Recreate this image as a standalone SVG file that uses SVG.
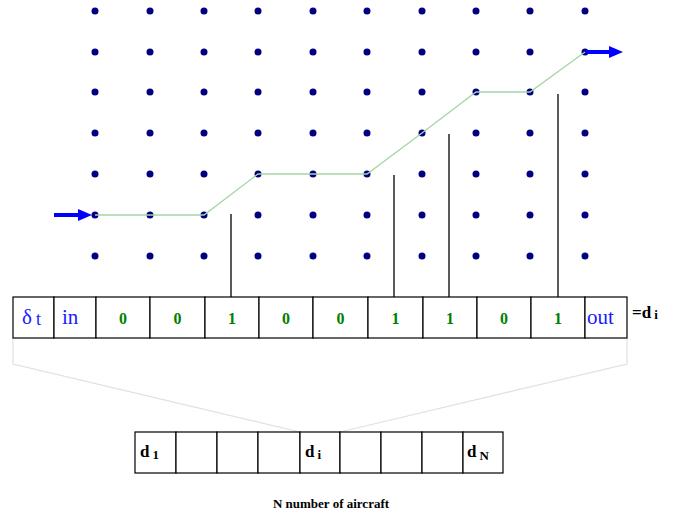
<svg xmlns="http://www.w3.org/2000/svg" width="686" height="520" viewBox="0 0 686 520">
<defs>
<style>
.dot{fill:#000080}
.cell{fill:#fff;stroke:#000;stroke-width:1.2}
.blue{font-family:"Liberation Serif",serif;fill:#1a1aff;font-size:21px}
.dig{font-family:"Liberation Serif",serif;fill:#008000;font-size:16px;font-weight:bold;text-anchor:middle}
.blk{font-family:"Liberation Serif",serif;fill:#000;font-weight:bold}
.path{fill:none;stroke:#a8d4a8;stroke-width:1.3}
.fan{fill:none;stroke:#e0e0e0;stroke-width:1.2}
.vl{stroke:#000;stroke-width:1.3}
.arr{stroke:#0000ff;stroke-width:4}
</style>
<marker id="ah" markerWidth="4" markerHeight="4" refX="0.5" refY="2" orient="auto" markerUnits="strokeWidth">
<path d="M0,0.5 L3.5,2 L0,3.5 Z" fill="#0000ff"/>
</marker>
</defs>
<g id="grid">
<g class="dot">
<circle cx="95" cy="11" r="3.5"/><circle cx="150" cy="11" r="3.5"/><circle cx="204" cy="11" r="3.5"/><circle cx="258" cy="11" r="3.5"/><circle cx="313" cy="11" r="3.5"/><circle cx="367" cy="11" r="3.5"/><circle cx="422" cy="11" r="3.5"/><circle cx="476" cy="11" r="3.5"/><circle cx="530" cy="11" r="3.5"/><circle cx="585" cy="11" r="3.5"/>
<circle cx="95" cy="52" r="3.5"/><circle cx="150" cy="52" r="3.5"/><circle cx="204" cy="52" r="3.5"/><circle cx="258" cy="52" r="3.5"/><circle cx="313" cy="52" r="3.5"/><circle cx="367" cy="52" r="3.5"/><circle cx="422" cy="52" r="3.5"/><circle cx="476" cy="52" r="3.5"/><circle cx="530" cy="52" r="3.5"/><circle cx="585" cy="52" r="3.5"/>
<circle cx="95" cy="92" r="3.5"/><circle cx="150" cy="92" r="3.5"/><circle cx="204" cy="92" r="3.5"/><circle cx="258" cy="92" r="3.5"/><circle cx="313" cy="92" r="3.5"/><circle cx="367" cy="92" r="3.5"/><circle cx="422" cy="92" r="3.5"/><circle cx="476" cy="92" r="3.5"/><circle cx="530" cy="92" r="3.5"/><circle cx="585" cy="92" r="3.5"/>
<circle cx="95" cy="133" r="3.5"/><circle cx="150" cy="133" r="3.5"/><circle cx="204" cy="133" r="3.5"/><circle cx="258" cy="133" r="3.5"/><circle cx="313" cy="133" r="3.5"/><circle cx="367" cy="133" r="3.5"/><circle cx="422" cy="133" r="3.5"/><circle cx="476" cy="133" r="3.5"/><circle cx="530" cy="133" r="3.5"/><circle cx="585" cy="133" r="3.5"/>
<circle cx="95" cy="174" r="3.5"/><circle cx="150" cy="174" r="3.5"/><circle cx="204" cy="174" r="3.5"/><circle cx="258" cy="174" r="3.5"/><circle cx="313" cy="174" r="3.5"/><circle cx="367" cy="174" r="3.5"/><circle cx="422" cy="174" r="3.5"/><circle cx="476" cy="174" r="3.5"/><circle cx="530" cy="174" r="3.5"/><circle cx="585" cy="174" r="3.5"/>
<circle cx="95" cy="215" r="3.5"/><circle cx="150" cy="215" r="3.5"/><circle cx="204" cy="215" r="3.5"/><circle cx="258" cy="215" r="3.5"/><circle cx="313" cy="215" r="3.5"/><circle cx="367" cy="215" r="3.5"/><circle cx="422" cy="215" r="3.5"/><circle cx="476" cy="215" r="3.5"/><circle cx="530" cy="215" r="3.5"/><circle cx="585" cy="215" r="3.5"/>
<circle cx="95" cy="256" r="3.5"/><circle cx="150" cy="256" r="3.5"/><circle cx="204" cy="256" r="3.5"/><circle cx="258" cy="256" r="3.5"/><circle cx="313" cy="256" r="3.5"/><circle cx="367" cy="256" r="3.5"/><circle cx="422" cy="256" r="3.5"/><circle cx="476" cy="256" r="3.5"/><circle cx="530" cy="256" r="3.5"/><circle cx="585" cy="256" r="3.5"/>
</g>
</g>
<g id="connectors">
<polyline class="path" points="95,215 204,215 258,174 367,174 422,133 476,92 530,92 585,52"/>
<line class="arr" x1="54" y1="215" x2="80" y2="215" marker-end="url(#ah)"/>
<line class="arr" x1="586" y1="52" x2="611" y2="52" marker-end="url(#ah)"/>
<line class="vl" x1="231" y1="214" x2="231" y2="297"/>
<line class="vl" x1="394" y1="175" x2="394" y2="297"/>
<line class="vl" x1="449" y1="134" x2="449" y2="297"/>
<line class="vl" x1="558" y1="94" x2="558" y2="297"/>
<polyline class="fan" points="13,338 13,364 300,432"/>
<polyline class="fan" points="627,338 627,364 340,432"/>
</g>
<g id="top-array">
<rect class="cell" x="13" y="297" width="41" height="41"/>
<rect class="cell" x="54" y="297" width="42" height="41"/>
<rect class="cell" x="96" y="297" width="54" height="41"/>
<rect class="cell" x="150" y="297" width="55" height="41"/>
<rect class="cell" x="205" y="297" width="54" height="41"/>
<rect class="cell" x="259" y="297" width="54" height="41"/>
<rect class="cell" x="313" y="297" width="55" height="41"/>
<rect class="cell" x="368" y="297" width="55" height="41"/>
<rect class="cell" x="423" y="297" width="54" height="41"/>
<rect class="cell" x="477" y="297" width="54" height="41"/>
<rect class="cell" x="531" y="297" width="54" height="41"/>
<rect class="cell" x="585" y="297" width="42" height="41"/>
<text class="blue" x="22" y="324" font-size="22">δ<tspan font-size="18" dx="4" dy="1">t</tspan></text>
<text class="blue" x="62" y="324">in</text>
<text class="dig" x="123" y="324">0</text>
<text class="dig" x="177.5" y="324">0</text>
<text class="dig" x="232" y="324">1</text>
<text class="dig" x="286" y="324">0</text>
<text class="dig" x="340.5" y="324">0</text>
<text class="dig" x="395.5" y="324">1</text>
<text class="dig" x="450" y="324">1</text>
<text class="dig" x="504" y="324">0</text>
<text class="dig" x="558" y="324">1</text>
<text class="blue" x="587" y="324" font-size="22">out</text>
<text class="blk" x="632" y="318" font-size="17">=d<tspan font-size="13" dx="3" dy="1">i</tspan></text>
</g>
<g id="bottom-array">
<rect class="cell" x="135" y="432" width="41" height="41"/>
<rect class="cell" x="176" y="432" width="41" height="41"/>
<rect class="cell" x="217" y="432" width="41" height="41"/>
<rect class="cell" x="258" y="432" width="42" height="41"/>
<rect class="cell" x="300" y="432" width="40" height="41"/>
<rect class="cell" x="340" y="432" width="41" height="41"/>
<rect class="cell" x="381" y="432" width="41" height="41"/>
<rect class="cell" x="422" y="432" width="41" height="41"/>
<rect class="cell" x="463" y="432" width="40" height="41"/>
<text class="blk" x="140" y="457" font-size="17">d<tspan font-size="13" dx="3" dy="2">1</tspan></text>
<text class="blk" x="305" y="457" font-size="17">d<tspan font-size="13" dx="3" dy="2">i</tspan></text>
<text class="blk" x="467" y="457" font-size="17">d<tspan font-size="13" dx="3" dy="3">N</tspan></text>
</g>
<g id="caption">
<text class="blk" x="331" y="508" font-size="13" text-anchor="middle">N number of aircraft</text>
</g>
</svg>
